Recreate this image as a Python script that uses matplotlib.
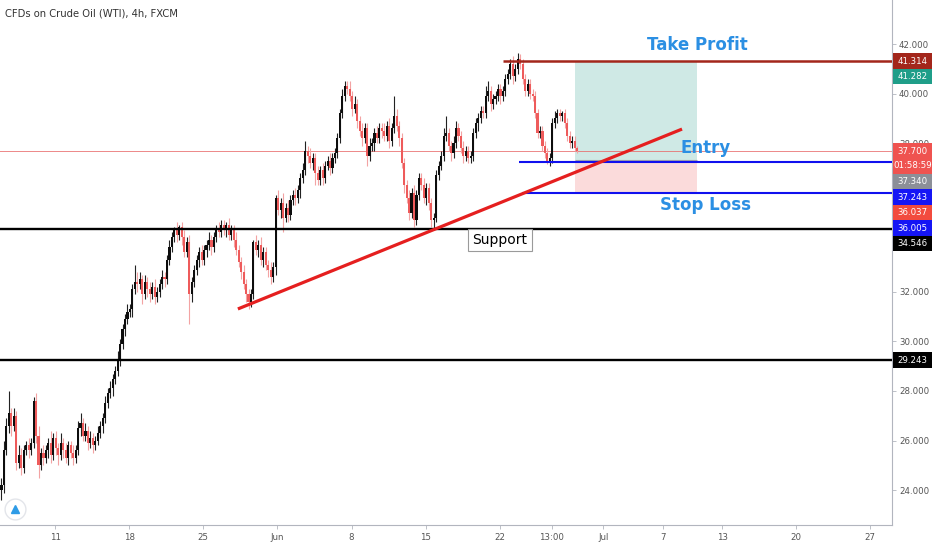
import numpy as np
import matplotlib
matplotlib.use('Agg')
import matplotlib.pyplot as plt
from matplotlib.patches import Rectangle

plt.rcParams['font.family'] = ['DejaVu Sans']

# 4h closes, one per bar (weekends skipped, 30 bars per week)
first_open = 24.0
closes = [
    24.2, 25.6, 26.6, 27.1, 26.6, 27.0, 25.1, 25.4, 24.9, 25.6,
    25.8, 25.6, 25.9, 27.6, 26.2, 25.0, 25.5, 25.3, 25.6, 25.9,
    25.4, 26.1, 25.7, 25.4, 25.9, 25.6, 25.3, 25.8, 25.5, 25.3,
    25.6, 26.5, 26.7, 26.2, 26.4, 25.9, 26.1, 25.8, 26.0, 26.3,
    26.6, 26.9, 27.5, 27.9, 28.1, 28.5, 28.8, 29.3, 29.9, 30.5,
    30.9, 31.2, 31.3, 32.1, 32.4, 32.3, 32.5, 31.9, 32.4, 32.1,
    31.9, 32.2, 31.8, 32.0, 32.3, 32.6, 32.5, 33.3, 33.8, 34.2,
    34.5, 34.3, 34.6, 34.2, 33.6, 34.0, 31.9, 32.4, 32.9, 33.3,
    33.6, 33.3, 33.7, 33.9, 34.1, 33.8, 34.2, 34.5, 34.4, 34.7,
    34.5, 34.7, 34.3, 34.5, 34.1, 33.7, 33.2, 32.8, 32.3, 31.9,
    31.6, 31.9, 34.0, 33.7, 33.9, 33.3, 33.6, 33.1, 32.9, 32.6,
    33.0, 35.8, 35.3, 35.6, 35.0, 35.4, 35.1, 35.7, 35.9, 35.8,
    36.1, 36.6, 36.9, 37.7, 37.5, 37.2, 37.4, 36.8, 36.5, 36.9,
    36.6, 37.1, 37.3, 37.0, 37.4, 37.6, 38.2, 39.2, 39.9, 40.3,
    40.2, 39.9, 39.4, 39.6, 38.9, 38.5, 38.2, 38.6, 37.5, 37.9,
    38.0, 38.4, 38.2, 38.6, 38.5, 38.3, 38.7, 38.1, 38.6, 39.1,
    38.7, 38.2, 37.2, 36.3, 35.8, 35.2, 36.0, 34.9, 35.9, 36.6,
    36.3, 35.8, 36.2, 35.6, 34.9, 35.0, 36.7, 37.1, 37.5, 38.3,
    38.4, 37.9, 37.6, 38.0, 38.6, 38.3, 37.8, 37.5, 37.7, 37.4,
    37.5, 38.4, 38.8, 39.0, 39.3, 39.2, 39.9, 40.1, 39.6, 39.8,
    39.9, 40.2, 39.9, 40.1, 40.6, 40.8, 41.2, 40.7, 41.0, 41.4,
    41.2, 40.6, 40.1, 40.4, 40.0, 39.9, 39.2, 38.4, 38.5, 37.9,
    37.6, 37.3, 37.4, 38.8, 39.0, 39.2, 39.1, 39.2, 38.8, 38.3,
    38.0, 38.1, 37.8, 37.7,
]
wick_hi = [
    0.3, 0.4, 0.3, 0.9, 0.2, 0.3, 0.2, 0.4, 0.3, 0.2,
    0.2, 0.3, 0.2, 0.15, 0.3, 0.4, 0.2, 0.3, 0.2, 0.2,
    0.5, 0.2, 0.3, 0.2, 0.4, 0.2, 0.3, 0.2, 0.2, 0.3,
    0.2, 0.3, 0.4, 0.2, 0.3, 0.2, 0.3, 0.2, 0.2, 0.3,
    0.2, 0.2, 0.3, 0.2, 0.3, 0.2, 0.2, 0.3, 0.2, 0.2,
    0.2, 0.3, 0.2, 0.2, 0.7, 0.4, 0.3, 0.2, 0.3, 0.2,
    0.3, 0.2, 0.3, 0.2, 0.2, 0.3, 0.2, 0.2, 0.3, 0.2,
    0.1, 0.3, 0.1, 0.2, 0.3, 0.2, 0.3, 0.2, 0.2, 0.2,
    0.2, 0.3, 0.2, 0.2, 0.3, 0.2, 0.2, 0.2, 0.3, 0.2,
    0.2, 0.1, 0.3, 0.2, 0.2, 0.3, 0.2, 0.2, 0.3, 0.2,
    0.2, 0.2, 0.1, 0.3, 0.2, 0.3, 0.2, 0.2, 0.2, 0.3,
    0.2, 0.1, 0.3, 0.2, 0.4, 0.2, 0.3, 0.2, 0.2, 0.3,
    0.2, 0.2, 0.3, 0.4, 0.2, 0.3, 0.2, 0.2, 0.3, 0.2,
    0.3, 0.2, 0.2, 0.3, 0.2, 0.2, 0.2, 0.2, 0.3, 0.2,
    0.2, 0.3, 0.2, 0.3, 0.2, 0.2, 0.3, 0.2, 0.2, 0.3,
    0.2, 0.2, 0.3, 0.2, 0.2, 0.3, 0.2, 0.3, 0.2, 0.8,
    0.3, 0.2, 0.2, 0.2, 0.2, 0.3, 0.2, 0.3, 0.2, 0.2,
    0.2, 0.3, 0.2, 0.2, 0.2, 0.2, 0.2, 0.2, 0.2, 0.3,
    0.7, 0.2, 0.2, 0.3, 0.3, 0.2, 0.2, 0.3, 0.2, 0.2,
    0.2, 0.2, 0.2, 0.2, 0.2, 0.2, 0.4, 0.4, 0.2, 0.2,
    0.2, 0.2, 0.2, 0.2, 0.2, 0.2, 0.2, 0.3, 0.2, 0.25,
    0.2, 0.2, 0.2, 0.2, 0.2, 0.2, 0.2, 0.2, 0.2, 0.2,
    0.2, 0.2, 0.2, 0.2, 0.3, 0.2, 0.2, 0.1, 0.2, 0.2,
    0.2, 0.2, 0.2, 0.1,
]
wick_lo = [
    0.4, 0.3, 0.2, 0.3, 0.4, 0.2, 0.3, 0.2, 0.3, 0.2,
    0.2, 0.3, 0.2, 0.2, 0.3, 0.5, 0.2, 0.3, 0.2, 0.3,
    0.3, 0.2, 0.3, 0.4, 0.2, 0.3, 0.2, 0.3, 0.2, 0.3,
    0.2, 0.2, 0.3, 0.2, 0.2, 0.3, 0.2, 0.3, 0.2, 0.2,
    0.2, 0.3, 0.2, 0.2, 0.2, 0.3, 0.2, 0.2, 0.3, 0.2,
    0.3, 0.2, 0.2, 0.3, 0.2, 0.3, 0.2, 0.4, 0.2, 0.3,
    0.3, 0.2, 0.3, 0.2, 0.2, 0.2, 0.3, 0.2, 0.2, 0.2,
    0.2, 0.3, 0.2, 0.3, 0.2, 0.2, 1.2, 0.3, 0.2, 0.2,
    0.3, 0.2, 0.2, 0.3, 0.2, 0.3, 0.2, 0.2, 0.2, 0.2,
    0.2, 0.3, 0.2, 0.2, 0.3, 0.2, 0.2, 0.3, 0.2, 0.3,
    0.3, 0.2, 0.2, 0.2, 0.3, 0.2, 0.3, 0.2, 0.3, 0.3,
    0.2, 0.3, 0.2, 0.3, 0.6, 0.2, 0.3, 0.2, 0.2, 0.3,
    0.2, 0.3, 0.2, 0.2, 0.3, 0.2, 0.3, 0.5, 0.2, 0.2,
    0.3, 0.2, 0.2, 0.3, 0.2, 0.2, 0.2, 0.2, 0.2, 0.2,
    0.2, 0.2, 0.3, 0.2, 0.3, 0.2, 0.3, 0.2, 0.4, 0.2,
    0.2, 0.3, 0.2, 0.2, 0.3, 0.2, 0.2, 0.3, 0.2, 0.2,
    0.2, 0.3, 0.2, 0.3, 0.2, 0.3, 0.2, 0.3, 0.2, 0.2,
    0.2, 0.2, 0.3, 0.3, 0.3, 0.4, 0.2, 0.2, 0.2, 0.2,
    0.2, 0.2, 0.3, 0.2, 0.2, 0.2, 0.2, 0.3, 0.2, 0.2,
    0.2, 0.2, 0.2, 0.3, 0.2, 0.2, 0.2, 0.2, 0.3, 0.2,
    0.2, 0.2, 0.3, 0.2, 0.2, 0.2, 0.2, 0.3, 0.2, 0.2,
    0.2, 0.2, 0.2, 0.2, 0.2, 0.2, 0.2, 0.2, 0.2, 0.2,
    0.2, 0.15, 0.2, 0.2, 0.2, 0.2, 0.2, 0.2, 0.2, 0.2,
    0.2, 0.2, 0.1, 0.1,
]

# x axis ticks, in bar units
tick_pos = [21.7, 51.7, 81.7, 111.7, 141.7, 171.7, 201.7, 222.7, 243.7, 267.7, 291.7, 321.7, 351.7]
tick_labels = ['11', '18', '25', 'Jun', '8', '15', '22', '13:00', 'Jul', '7', '13', '20', '27']

# price scale ticks (those hidden under the level labels are left blank)
price_ticks = [24, 26, 28, 30, 32, 34, 36, 38, 40, 42]
price_tick_labels = ['24.000', '26.000', '28.000', '30.000', '32.000', '', '', '38.000', '40.000', '42.000']

# drawn levels
take_profit = 41.314
entry_level = 37.243
stop_level = 36.005
support_level = 34.546
lower_level = 29.243
last_price = 37.700
tp_start, entry_start, stop_start = 203.0, 209.5, 210.7

# long position tool
tool_tp, tool_entry, tool_sl = 41.282, 37.340, 36.037
tool_start, tool_end = 232.2, 281.6

# trend line
trend_x = [95.7, 275.5]
trend_y = [31.31, 38.57]

# price scale labels: value, text, background, rows
price_labels = [
    (41.314, '41.314', '#a3261b', 1),
    (41.282, '41.282', '#1f9e89', 1),
    (37.700, '37.700\n01:58:59', '#ef5350', 2),
    (37.340, '37.340', '#8c8f98', 1),
    (37.243, '37.243', '#1515f5', 1),
    (36.037, '36.037', '#f24b3e', 1),
    (36.005, '36.005', '#1515f5', 1),
    (34.546, '34.546', '#000000', 1),
    (29.243, '29.243', '#000000', 1),
]

W, H = 932, 550
fig = plt.figure(figsize=(W / 100, H / 100), dpi=100)
fig.patch.set_facecolor('white')
ax = fig.add_axes([0, 25 / H, 892 / W, 525 / H])
ax.set_xlim(-0.6, 360.5)
ax.set_ylim(22.59, 43.78)

# candles
c = np.array(closes)
o = np.array([first_open] + closes[:-1])
hi = np.maximum(o, c) + np.array(wick_hi)
lo = np.minimum(o, c) - np.array(wick_lo)
xb = np.arange(len(c))
up = c >= o
body_cols = np.where(up, '#0d0d0d', '#ee5b5b')
wick_cols = np.where(up, '#222222', '#f3a3a3')
ax.vlines(xb, lo, hi, colors=wick_cols, lw=0.8, zorder=3)
ax.bar(xb, np.maximum(np.abs(c - o), 0.06), bottom=np.minimum(o, c), width=0.85,
       color=body_cols, lw=0, zorder=3)

# position tool
ax.add_patch(Rectangle((tool_start, tool_entry), tool_end - tool_start, tool_tp - tool_entry,
                       facecolor='#cfe9e5', lw=0, zorder=1))
ax.add_patch(Rectangle((tool_start, tool_sl), tool_end - tool_start, tool_entry - tool_sl,
                       facecolor='#fbdbdb', lw=0, zorder=1))
ax.hlines(tool_entry, tool_start, tool_end, color='#a0a3aa', lw=0.8, zorder=2)

# horizontal levels
xmax = ax.get_xlim()[1]
ax.axhline(last_price, color='#e86a6a', lw=0.7, alpha=0.8, zorder=2)
ax.axhline(support_level, color='black', lw=1.7, zorder=4)
ax.axhline(lower_level, color='black', lw=1.7, zorder=4)
ax.hlines(take_profit, tp_start, xmax, color='#a3261b', lw=1.8, zorder=4)
ax.hlines(entry_level, entry_start, xmax, color='#1010ee', lw=1.5, zorder=4)
ax.hlines(stop_level, stop_start, xmax, color='#1010ee', lw=1.5, zorder=4)
ax.plot(trend_x, trend_y, color='#e51f1f', lw=2.3, solid_capstyle='butt', zorder=5)

# annotations
blue = '#2b8fe3'
ax.text(281.6, 41.96, 'Take Profit', ha='center', va='center', color=blue,
        fontsize=12, fontweight='bold', zorder=6)
ax.text(285.2, 37.80, 'Entry', ha='center', va='center', color=blue,
        fontsize=12, fontweight='bold', zorder=6)
ax.text(285.2, 35.50, 'Stop Loss', ha='center', va='center', color=blue,
        fontsize=12, fontweight='bold', zorder=6)
ax.text(201.8, 34.09, 'Support', ha='center', va='center', color='black', fontsize=10,
        zorder=6, bbox=dict(boxstyle='square,pad=0.3', fc='white', ec='#9a9a9a', lw=0.8))

# axes styling
for s in ['top', 'left']:
    ax.spines[s].set_visible(False)
ax.spines['right'].set_color('#b2b5be')
ax.spines['bottom'].set_color('#b2b5be')
ax.yaxis.tick_right()
ax.set_yticks(price_ticks)
ax.set_yticklabels(price_tick_labels)
ax.set_xticks(tick_pos)
ax.set_xticklabels(tick_labels)
ax.tick_params(axis='both', colors='#b2b5be', labelcolor='#555555', labelsize=6.2,
               length=3, width=0.6)
ax.tick_params(axis='y', pad=2)
ax.tick_params(axis='x', pad=3)

# logo
ax.plot([0.017], [0.03], marker='o', markersize=15, mfc='white', mec='#e3e5ea',
        transform=ax.transAxes, clip_on=False, zorder=6)
ax.plot([0.017], [0.03], marker='^', markersize=6, color='#2e9be6',
        transform=ax.transAxes, clip_on=False, zorder=7)

# title
fig.text(5 / W, 1 - 14 / H, 'CFDs on Crude Oil (WTI), 4h, FXCM', fontsize=7.2,
         color='#333333', ha='left', va='center')

# price scale labels, stacked so they do not overlap
row_h = 15.5
prev_bottom = -1e9
for price, txt, bg, nl in sorted(price_labels, key=lambda t: -t[0]):
    y_pix = H - ax.transData.transform((0, price))[1]
    top = max(y_pix - row_h / 2, prev_bottom)
    bottom = top + row_h * nl
    prev_bottom = bottom
    fig.add_artist(Rectangle((893 / W, 1 - bottom / H), 39 / W, (bottom - top) / H,
                             transform=fig.transFigure, facecolor=bg, lw=0))
    fig.text(912.5 / W, 1 - (top + bottom) / 2 / H, txt, color='white', fontsize=6.2,
             ha='center', va='center', linespacing=1.75)

fig.savefig('out.png', dpi=100)
